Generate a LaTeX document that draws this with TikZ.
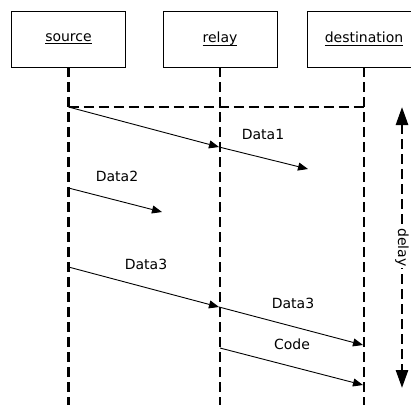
\documentclass[tikz,border=0pt]{standalone}
\usepackage{fontspec}
\setmainfont{DejaVu Sans}
\usetikzlibrary{positioning, arrows.meta}
\newsavebox{\entbox}
\newcommand{\entname}[1]{\sbox{\entbox}{#1}\raisebox{-3pt}{\rlap{\usebox{\entbox}}\rule[-3pt]{\wd\entbox}{1pt}}}

\begin{document}
\begin{tikzpicture}[x=1pt, y=-1pt,
            entity/.style={rectangle, draw, line width=0.8pt, minimum width=114pt, minimum height=56pt, font=\fontsize{14}{16}\selectfont},
            lifeline/.style={dash pattern=on 10pt off 5pt, line width=2.6pt},
            msg/.style={-{Triangle[length=10pt,width=8pt]}, line width=0.9pt},
            lbl/.style={font=\fontsize{14}{16}\selectfont},
            span/.style={{Triangle[length=18pt,width=12pt]}-{Triangle[length=18pt,width=12pt]}, dash pattern=on 10pt off 5pt, line width=2.6pt}
        ]
        \useasboundingbox (0,0) rectangle (411,405);
        % Entities (top)
        \node[entity] (src) at (68.5,39) {\entname{source}};
        \node[entity] (rly) at (220,39) {\entname{relay}};
        \node[entity] (dst) at (364,39) {\entname{destination}};
        % Lifeline ends
        \coordinate (srcend) at (68.5,405);
        \coordinate (rlyend) at (220,405);
        \coordinate (dstend) at (364,405);
        \draw[lifeline] (src) -- (srcend);
        \draw[lifeline] (rly) -- (rlyend);
        \draw[lifeline] (dst) -- (dstend);
        % Start line
        \coordinate (s0) at (68.5,107);
        \coordinate (d0) at (364,107);
        \draw[lifeline] (s0) -- (d0);
        % Message points
        \coordinate (r1) at (219,147);
        \coordinate (m1) at (308,169);
        \coordinate (s2) at (68.5,188);
        \coordinate (m2) at (162,212);
        \coordinate (s3) at (68.5,267);
        \coordinate (r3) at (219,307);
        \coordinate (d3) at (363,345);
        \coordinate (r4) at (220,348);
        \coordinate (d4) at (363,385);
        % Messages
        \draw[msg] (s0) -- (r1);
        \draw[msg] (r1) -- (m1);
        \draw[msg] (s2) -- (m2);
        \draw[msg] (s3) -- (r3);
        \draw[msg] (r3) -- (d3);
        \draw[msg] (r4) -- (d4);
        % Labels
        \node[lbl] (l1) at (263,134) {Data1};
        \node[lbl] (l2) at (117,176) {Data2};
        \node[lbl] (l3) at (146,264) {Data3};
        \node[lbl] (l4) at (293,303) {Data3};
        \node[lbl] (l5) at (292,344) {Code};
        % Delay
        \coordinate (dtop) at (402,107);
        \coordinate (dbot) at (402,388);
        \draw[span] (dtop) -- node[lbl, fill=white, rotate=-90, inner sep=1pt] (dl) {delay} (dbot);
        \end{tikzpicture}
\end{document}
